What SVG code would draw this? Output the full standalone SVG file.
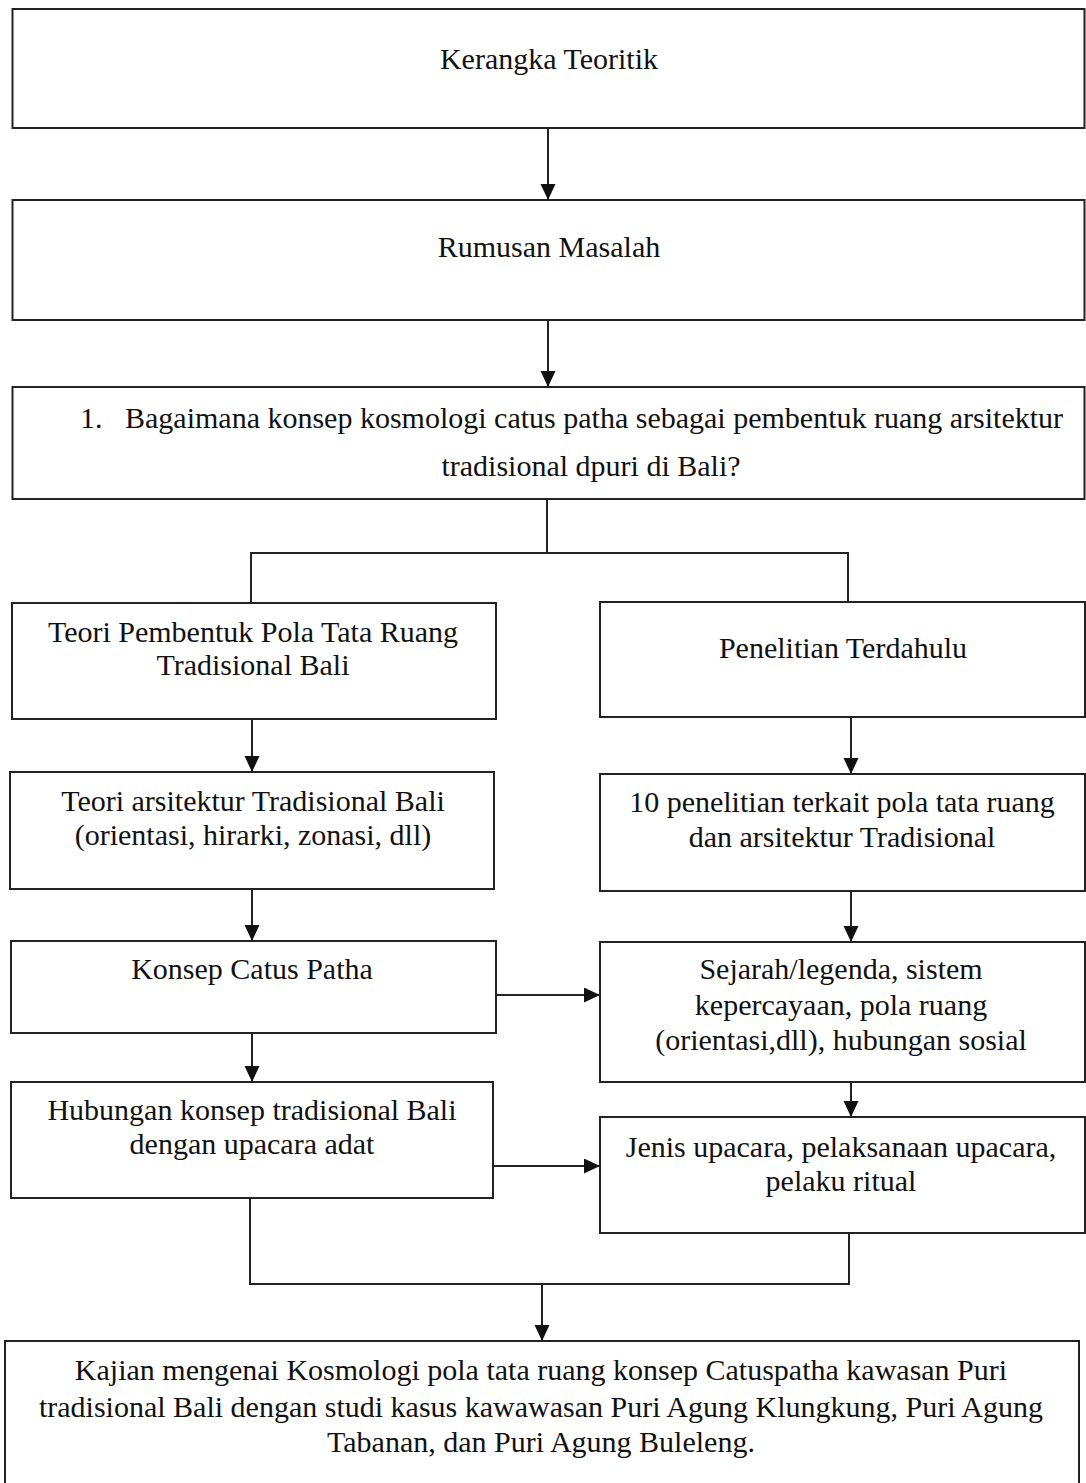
<svg xmlns="http://www.w3.org/2000/svg" width="1086" height="1483" viewBox="0 0 1086 1483">
<style>
.box{fill:#fff;stroke:#222;stroke-width:2}
.t{font-family:"Liberation Serif","Times New Roman",serif;font-size:30px;fill:#111;text-anchor:middle}
.s{text-anchor:start}
.c{fill:none;stroke:#222;stroke-width:2}
</style>
<defs>
<marker id="ah" markerUnits="userSpaceOnUse" markerWidth="18" markerHeight="16" refX="16" refY="7.5" orient="auto">
<path d="M0,0 L16,7.5 L0,15 z" fill="#111"/>
</marker>
</defs>
<rect width="1086" height="1483" fill="#fff"/>
<g id="connectors">
<line class="c" x1="548" y1="128" x2="548" y2="200" marker-end="url(#ah)"/>
<line class="c" x1="548" y1="320" x2="548" y2="387" marker-end="url(#ah)"/>
<polyline class="c" points="547,499 547,553"/>
<polyline class="c" points="251,603 251,553 848,553 848,602"/>
<line class="c" x1="252" y1="719" x2="252" y2="772" marker-end="url(#ah)"/>
<line class="c" x1="851" y1="717" x2="851" y2="774" marker-end="url(#ah)"/>
<line class="c" x1="252" y1="889" x2="252" y2="941" marker-end="url(#ah)"/>
<line class="c" x1="851" y1="891" x2="851" y2="942" marker-end="url(#ah)"/>
<line class="c" x1="252" y1="1033" x2="252" y2="1082" marker-end="url(#ah)"/>
<line class="c" x1="851" y1="1082" x2="851" y2="1117" marker-end="url(#ah)"/>
<line class="c" x1="496" y1="995" x2="600" y2="995" marker-end="url(#ah)"/>
<line class="c" x1="493" y1="1166" x2="600" y2="1166" marker-end="url(#ah)"/>
<polyline class="c" points="250,1198 250,1284 849,1284 849,1233"/>
<line class="c" x1="542" y1="1284" x2="542" y2="1341" marker-end="url(#ah)"/>
</g>
<g id="n1">
<rect class="box" x="12.5" y="9" width="1072" height="119"/>
<text class="t" x="549" y="69">Kerangka Teoritik</text>
</g>
<g id="n2">
<rect class="box" x="12.5" y="200" width="1072" height="120"/>
<text class="t" x="549" y="257">Rumusan Masalah</text>
</g>
<g id="n3">
<rect class="box" x="12.5" y="387" width="1072" height="112"/>
<text class="t s" x="80" y="428">1.</text>
<text class="t s" x="125" y="428">Bagaimana konsep kosmologi catus patha sebagai pembentuk ruang arsitektur</text>
<text class="t" x="591" y="476">tradisional dpuri di Bali?</text>
</g>
<g id="nA">
<rect class="box" x="12" y="603" width="484" height="116"/>
<text class="t" x="253" y="642">Teori Pembentuk Pola Tata Ruang</text>
<text class="t" x="253" y="675">Tradisional Bali</text>
</g>
<g id="nB">
<rect class="box" x="600" y="602" width="485" height="115"/>
<text class="t" x="843" y="658">Penelitian Terdahulu</text>
</g>
<g id="nC">
<rect class="box" x="10" y="772" width="484" height="117"/>
<text class="t" x="253" y="811">Teori arsitektur Tradisional Bali</text>
<text class="t" x="253" y="845">(orientasi, hirarki, zonasi, dll)</text>
</g>
<g id="nD">
<rect class="box" x="600" y="774" width="485" height="117"/>
<text class="t" x="842" y="812">10 penelitian terkait pola tata ruang</text>
<text class="t" x="842" y="847">dan arsitektur Tradisional</text>
</g>
<g id="nE">
<rect class="box" x="11" y="941" width="485" height="92"/>
<text class="t" x="252" y="979">Konsep Catus Patha</text>
</g>
<g id="nF">
<rect class="box" x="600" y="942" width="485" height="140"/>
<text class="t" x="841" y="979">Sejarah/legenda, sistem</text>
<text class="t" x="841" y="1015">kepercayaan, pola ruang</text>
<text class="t" x="841" y="1050">(orientasi,dll), hubungan sosial</text>
</g>
<g id="nG">
<rect class="box" x="11" y="1082" width="482" height="116"/>
<text class="t" x="252" y="1120">Hubungan konsep tradisional Bali</text>
<text class="t" x="252" y="1154">dengan upacara adat</text>
</g>
<g id="nH">
<rect class="box" x="600" y="1117" width="485" height="116"/>
<text class="t" x="841" y="1157">Jenis upacara, pelaksanaan upacara,</text>
<text class="t" x="841" y="1191">pelaku ritual</text>
</g>
<g id="nI">
<rect class="box" x="5" y="1341" width="1074" height="160"/>
<text class="t" x="541" y="1380">Kajian mengenai Kosmologi pola tata ruang konsep Catuspatha kawasan Puri</text>
<text class="t" x="541" y="1417">tradisional Bali dengan studi kasus kawawasan Puri Agung Klungkung, Puri Agung</text>
<text class="t" x="541" y="1452">Tabanan, dan Puri Agung Buleleng.</text>
</g>
</svg>
